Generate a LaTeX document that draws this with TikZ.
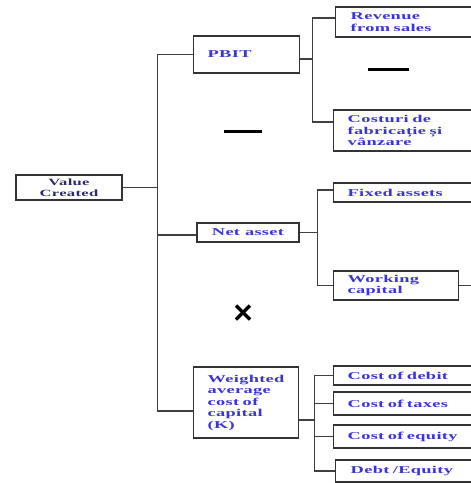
\documentclass[tikz,border=0pt]{standalone}
\usepackage{fontspec}
\usepackage{tikz}
\usetikzlibrary{calc,positioning}
\newfontfamily\boxfont[FakeStretch=1.75,LetterSpace=3]{Liberation Serif}
\definecolor{BoxBlue}{HTML}{3A34D8}
\definecolor{BoxNavy}{HTML}{2B2B6B}

\begin{document}
\begin{tikzpicture}[x=1pt,y=1pt,
 box/.style={rectangle,draw=black!80,line width=1.4pt,inner xsep=14pt,inner ysep=1pt,
  text=BoxBlue,align=left,font=\boxfont\bfseries\fontsize{10.5}{11.5}\selectfont},
 rbox/.style={box,anchor=west,text width=124pt},
 conn/.style={draw=black!75,line width=1.2pt},
 op/.style={draw=black,line width=3pt}]
\useasboundingbox (0,0) rectangle (471,-483);
\clip (0,0) rectangle (471,-483);
 \node[box,align=center,text=BoxNavy,minimum width=106pt,minimum height=25pt,inner xsep=2pt,
  font=\boxfont\bfseries\fontsize{9.5}{10.5}\selectfont] (vc) at (69,-187.5) {Value\\Created};
 \node[box,anchor=west,text width=78pt,minimum height=37pt] (pbit) at (193,-54.5) {PBIT};
 \node[box,align=center,minimum width=102pt,minimum height=19pt,inner xsep=2pt] (nasset) at (248,-232.5) {Net asset};
 \node[box,anchor=west,text width=77pt,minimum height=71pt] (wacc) at (193,-402.5) {Weighted\\average\\cost of\\capital\\(K)};
 \node[rbox,inner xsep=15pt,text width=122pt,minimum height=30pt] (rev) at (335,-22) {Revenue\\from sales};
 \node[rbox,minimum height=41pt] (cost) at (333,-130.5) {Costuri de\\fabricație și\\vânzare};
 \node[rbox,minimum height=19pt] (fa) at (333,-192.5) {Fixed assets};
 \node[box,anchor=west,text width=97pt,minimum height=29pt] (wc) at (333,-285.5) {Working\\capital};
 \node[rbox,minimum height=19pt] (cd) at (333,-375.5) {Cost of debit};
 \node[rbox,minimum height=23pt] (ct) at (333,-403.5) {Cost of taxes};
 \node[rbox,minimum height=23pt] (ce) at (333,-436.5) {Cost of equity};
 \node[rbox,inner xsep=15pt,text width=122pt,minimum height=22pt] (de) at (335,-471) {Debt /Equity};
 \draw[conn] (vc.east) -- ++(35,0) coordinate (trunk);
 \draw[conn] (pbit.west) -| (trunk) |- ([yshift=-8.5pt]wacc.west);
 \draw[conn] ([yshift=-2.5pt]nasset.west) -| (trunk);
 \draw[conn] ([yshift=-4.5pt]pbit.east) -- ++(12,0) coordinate (bp);
 \draw[conn] ([yshift=4pt]rev.west) -| (bp) |- ([yshift=8.5pt]cost.west);
 \draw[conn] (nasset.east) -- ++(18,0) coordinate (bn);
 \draw[conn] ([yshift=2.5pt]fa.west) -| (bn) |- (wc.west);
 \coordinate (wcout) at (480,-285.5);
 \draw[conn] (wc.east) -- (wcout);
 \draw[conn] ([yshift=-17.5pt]wacc.east) -- ++(15,0) coordinate (bw);
 \draw[conn] (cd.west) -| (bw) |- (de.west);
 \draw[conn] (ct.west) -| (bw);
 \draw[conn] (ce.west) -| (bw);
 \draw[op] (368,-69) -- (409,-69);
 \draw[op] (224,-131) -- (262,-131);
 \draw[op,line width=3.5pt] (236,-305.5) -- (250,-319.5);
 \draw[op,line width=3.5pt] (236,-319.5) -- (250,-305.5);
\end{tikzpicture}
\end{document}
